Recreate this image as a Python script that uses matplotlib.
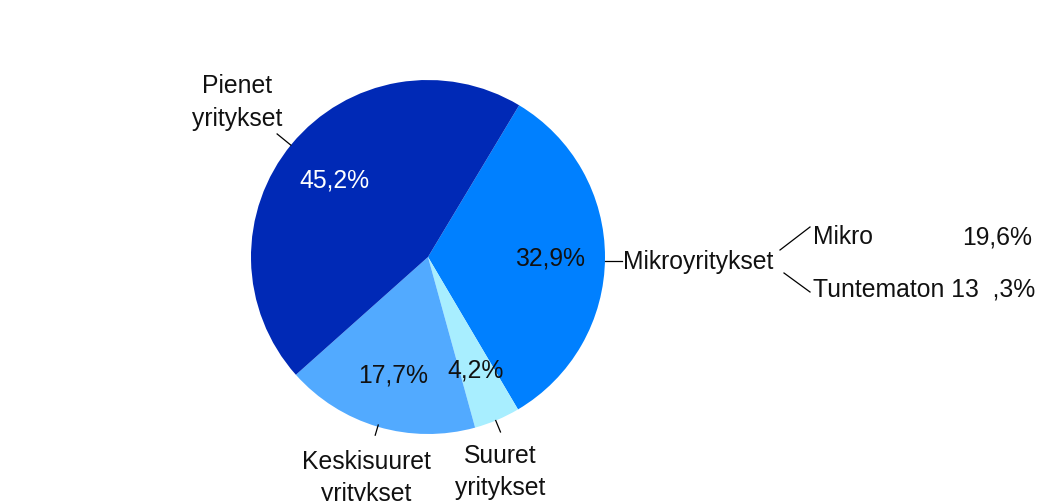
import numpy as np
import matplotlib
matplotlib.use("Agg")
import matplotlib.pyplot as plt

# data, in drawing order (clockwise from the top-right boundary)
labels = ["Mikroyritykset", "Suuret\nyritykset", "Keskisuuret\nyritykset", "Pienet\nyritykset"]
shares = [32.9, 4.2, 17.7, 45.2]
colors = ["#0080FF", "#A8EEFF", "#52AAFF", "#0029B6"]
pct_colors = ["#111111", "#111111", "#111111", "white"]

sub_labels = ["Mikro", "Tuntematon 13  ,3%"]
sub_values = ["19,6%", ""]

plt.rcParams['font.family'] = ['Liberation Sans', 'DejaVu Sans']
FS = 17.8

W, H = 1049, 502
fig = plt.figure(figsize=(W / 100, H / 100), dpi=100)
ax = fig.add_axes([0, 0, 1, 1])

cx, cy, R = 428, H - 258, 177

def fmt(p):
    return f"{p:.1f}".replace('.', ',') + '%'

wedges, _, pct_texts = ax.pie(
    shares, colors=colors, startangle=59, counterclock=False,
    center=(cx, cy), radius=R, autopct=fmt, pctdistance=0.69,
    wedgeprops=dict(linewidth=0), textprops=dict(fontsize=FS),
    frame=True)
ax.set_xlim(0, W)
ax.set_ylim(0, H)
ax.set_aspect('equal')
ax.axis('off')
for t, c in zip(pct_texts, pct_colors):
    t.set_color(c)

def pol(ang, f):
    a = np.deg2rad(ang)
    return cx + R * f * np.cos(a), cy + R * f * np.sin(a)

# outer labels: (leader angle, line start, line end, text angle, text dist)
specs = {
    1: (-67.5, 1.0, 1.07, -71.4, 1.275),
    2: (-106.5, 0.99, 1.05, -105.7, 1.29),
    3: (140.8, 1.0, 1.1, 140.8, 1.39),
}
for i, (ang, f0, f1, tang, ft) in specs.items():
    x0, y0 = pol(ang, f0)
    x1, y1 = pol(ang, f1)
    ax.plot([x0, x1], [y0, y1], color='black', lw=0.9)
    tx, ty = pol(tang, ft)
    ax.text(tx, ty, labels[i], ha='center', va='center', fontsize=FS,
            color='#111111', linespacing=1.45)

# Mikroyritykset label with horizontal leader
ly = cy - 4
ax.plot([cx + R, 622], [ly, ly], color='black', lw=0.9)
ax.text(623, ly, labels[0], ha='left', va='center', fontsize=FS, color='#111111')

# breakdown of micro enterprises
ax.plot([780, 810], [H - 251, H - 228], color='black', lw=0.9)
ax.plot([784, 810], [H - 274, H - 293], color='black', lw=0.9)
ax.text(813, H - 237, sub_labels[0], ha='left', va='center', fontsize=FS, color='#111111')
ax.text(1032, H - 237, sub_values[0], ha='right', va='center', fontsize=FS, color='#111111')
ax.text(813, H - 289, sub_labels[1], ha='left', va='center', fontsize=FS, color='#111111')

fig.savefig("out.png", dpi=100)
